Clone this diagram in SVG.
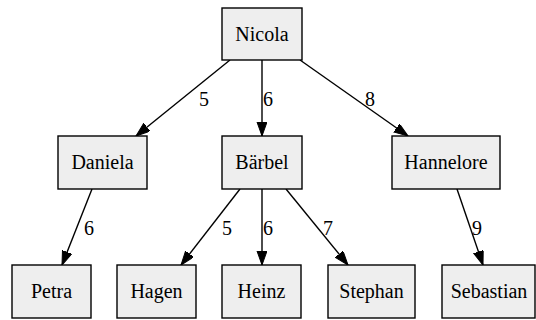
<svg xmlns="http://www.w3.org/2000/svg" width="536" height="320" viewBox="0 0 536 320">
<style>
.n rect{fill:#eeeeee;stroke:#000;stroke-width:1.4}
.n text{text-anchor:middle}
.e line{stroke:#000;stroke-width:1.4;marker-end:url(#a)}
.l text{text-anchor:middle}
</style>
<defs>
<marker id="a" markerUnits="userSpaceOnUse" markerWidth="15" markerHeight="11" refX="14" refY="5" orient="auto" viewBox="0 0 15 11">
<path d="M0,0 L14,5 L0,10 z" fill="#000" stroke="#000" stroke-width="1"/>
</marker>
</defs>
<rect width="536" height="320" fill="#fff"/>
<g id="edges" class="e">
<line x1="230" y1="60" x2="136" y2="136"/>
<line x1="262" y1="60" x2="262" y2="136"/>
<line x1="300" y1="60" x2="408" y2="136"/>
<line x1="92" y1="189" x2="62" y2="265"/>
<line x1="240" y1="189" x2="181" y2="265"/>
<line x1="262" y1="189" x2="262" y2="265"/>
<line x1="286" y1="189" x2="348" y2="265"/>
<line x1="457" y1="189" x2="483" y2="265"/>
</g>
<g id="labels" class="l" font-family="Liberation Serif" font-size="20">
<text x="204" y="106">5</text>
<text x="268" y="106">6</text>
<text x="370" y="106">8</text>
<text x="89" y="235">6</text>
<text x="227" y="235">5</text>
<text x="268" y="235">6</text>
<text x="328" y="235">7</text>
<text x="477" y="235">9</text>
</g>
<g font-family="Liberation Serif" font-size="20">
<g id="Nicola" class="n"><rect x="222" y="8" width="80" height="52"/><text x="262" y="40.5">Nicola</text></g>
<g id="Daniela" class="n"><rect x="58" y="136" width="89" height="53"/><text x="102.5" y="169">Daniela</text></g>
<g id="Baerbel" class="n"><rect x="222" y="136" width="80" height="53"/><text x="262" y="169">Bärbel</text></g>
<g id="Hannelore" class="n"><rect x="392" y="136" width="108" height="53"/><text x="446" y="169">Hannelore</text></g>
<g id="Petra" class="n"><rect x="12" y="265" width="79" height="53"/><text x="51.5" y="298">Petra</text></g>
<g id="Hagen" class="n"><rect x="117" y="265" width="79" height="53"/><text x="156.5" y="298">Hagen</text></g>
<g id="Heinz" class="n"><rect x="222" y="265" width="79" height="53"/><text x="261.5" y="298">Heinz</text></g>
<g id="Stephan" class="n"><rect x="328" y="265" width="87" height="53"/><text x="371.5" y="298">Stephan</text></g>
<g id="Sebastian" class="n"><rect x="442" y="265" width="93" height="53"/><text x="489" y="298">Sebastian</text></g>
</g>
</svg>
